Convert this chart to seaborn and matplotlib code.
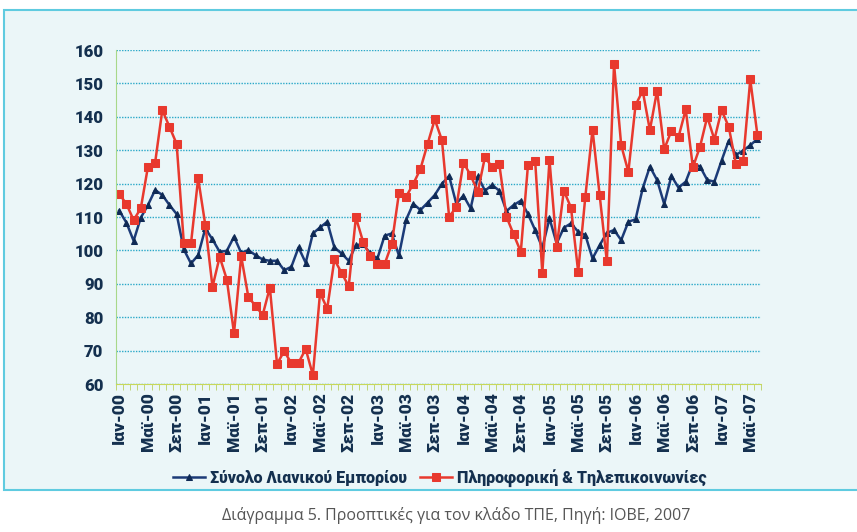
import matplotlib
matplotlib.use('Agg')
import numpy as np
import pandas as pd
import matplotlib.pyplot as plt
import seaborn as sns
from matplotlib.patches import Rectangle

# monthly index values, Jan 2000 - Jun 2007
retail = [111.9, 108.3, 102.9, 109.8, 113.6, 118.1, 116.6, 113.6, 110.9, 100.3, 96.1, 98.6,
          106.6, 103.3, 99.6, 99.9, 104.1, 99.3, 100.1, 98.6, 97.3, 96.9, 96.9, 94.1,
          95.1, 100.9, 96.3, 105.1, 106.9, 108.6, 100.9, 99.1, 96.9, 101.6, 101.9, 99.1,
          97.6, 104.4, 105.1, 98.5, 109.2, 114.0, 112.1, 114.3, 116.6, 120.0, 122.3, 114.0,
          116.4, 112.6, 122.2, 117.9, 119.6, 117.9, 111.8, 113.6, 114.9, 110.9, 106.1, 100.8,
          109.6, 102.1, 106.8, 108.1, 105.6, 104.6, 97.6, 101.6, 105.3, 106.1, 103.1, 108.6,
          109.3, 118.6, 125.1, 121.1, 113.9, 122.3, 118.8, 120.6, 126.1, 125.1, 121.1, 120.6,
          126.9, 132.9, 128.6, 129.9, 131.5, 133.4]
ict = [116.9, 113.9, 109.1, 112.6, 125.1, 126.3, 142.0, 137.0, 131.9, 102.3, 102.1, 121.6,
       107.6, 89.1, 98.1, 91.3, 75.2, 98.3, 86.1, 83.4, 80.7, 88.9, 66.0, 69.9,
       66.2, 66.4, 70.5, 62.7, 87.3, 82.6, 97.3, 93.3, 89.3, 109.9, 102.6, 98.3,
       95.9, 95.9, 101.9, 117.1, 116.1, 119.9, 124.4, 131.9, 139.2, 133.0, 110.1, 112.9,
       126.3, 122.5, 117.6, 128.0, 124.9, 125.8, 110.1, 104.8, 99.6, 125.6, 126.8, 93.3,
       127.1, 100.9, 117.9, 112.8, 93.6, 116.1, 136.2, 116.5, 96.7, 155.8, 131.5, 123.5,
       143.5, 147.8, 136.0, 147.8, 130.3, 135.8, 134.0, 142.2, 124.9, 131.1, 140.0, 133.2,
       142.0, 137.0, 125.9, 126.7, 151.2, 134.5]
tick_labels = ['Ιαν-00', 'Μαϊ-00', 'Σεπ-00', 'Ιαν-01', 'Μαϊ-01', 'Σεπ-01', 'Ιαν-02', 'Μαϊ-02',
               'Σεπ-02', 'Ιαν-03', 'Μαϊ-03', 'Σεπ-03', 'Ιαν-04', 'Μαϊ-04', 'Σεπ-04', 'Ιαν-05',
               'Μαϊ-05', 'Σεπ-05', 'Ιαν-06', 'Μαϊ-06', 'Σεπ-06', 'Ιαν-07', 'Μαϊ-07']
series_names = ['Σύνολο Λιανικού Εμπορίου', 'Πληροφορική & Τηλεπικοινωνίες']
caption = 'Διάγραμμα 5. Προοπτικές για τον κλάδο ΤΠΕ, Πηγή: ΙΟΒΕ, 2007'

plt.rcParams['font.family'] = ['Roboto', 'DejaVu Sans']
text_col = '#14304f'

df = pd.DataFrame({'month': np.arange(len(retail)), 'retail': retail, 'ict': ict})

fig = plt.figure(figsize=(8.57, 5.32), dpi=100)
panel = Rectangle((0.005, 0.079), 1.0, 0.902, transform=fig.transFigure,
                  facecolor='#ebf6f8', edgecolor='#5fcbe0', lw=1.5, zorder=-10)
fig.add_artist(panel)
ax = fig.add_axes([0.135, 0.278, 0.753, 0.628])
ax.set_facecolor('none')

sns.lineplot(data=df, x='month', y='retail', ax=ax, color='#1c3b78', lw=1.8,
             marker='^', markersize=5, markeredgecolor='#0f2a55', markerfacecolor='#0f2a55',
             label=series_names[0])
sns.lineplot(data=df, x='month', y='ict', ax=ax, color='#e8392e', lw=1.8,
             marker='s', markersize=5.5, markeredgecolor='#e8392e', markerfacecolor='#e8392e',
             label=series_names[1])

ax.set_xlim(-0.5, len(retail) - 0.5)
ax.set_ylim(60, 160)
ax.set_yticks(range(60, 161, 10))
ax.set_xticks(range(0, len(retail), 4))
ax.set_xticklabels(tick_labels, rotation=90)
ax.set_xticks(np.arange(-0.5, len(retail), 1), minor=True)
ax.tick_params(axis='x', which='major', length=0, pad=6)
ax.tick_params(axis='x', which='minor', length=4, color='#b8d060', direction='out')
ax.tick_params(axis='y', length=0, pad=9)
for lab in ax.get_xticklabels():
    lab.set_fontweight('heavy'); lab.set_fontsize(12.5); lab.set_color(text_col)
for lab in ax.get_yticklabels():
    lab.set_fontweight('heavy'); lab.set_fontsize(12); lab.set_color(text_col)
ax.set_xlabel('')
ax.set_ylabel('')

ax.grid(axis='y', color='#2aa8c8', linestyle=(0, (1, 1)), lw=1)
ax.set_axisbelow(True)
for s in ['top', 'right']:
    ax.spines[s].set_visible(False)
ax.spines['left'].set_color('#a8d88a')
ax.spines['bottom'].set_color('#c8d85a')

leg = ax.legend(loc='center', bbox_to_anchor=(0.513, 0.1015), bbox_transform=fig.transFigure,
                ncol=2, frameon=False, handlelength=2.0, columnspacing=0.8, handletextpad=0.3,
                prop={'weight': 'heavy', 'size': 11.5})
for t in leg.get_texts():
    t.set_color(text_col)

fig.text(0.532, 0.031, caption, ha='center', va='center', fontsize=11.5, color='#555555',
         family=['Open Sans', 'DejaVu Sans'])

fig.savefig('out.png', dpi=100)
